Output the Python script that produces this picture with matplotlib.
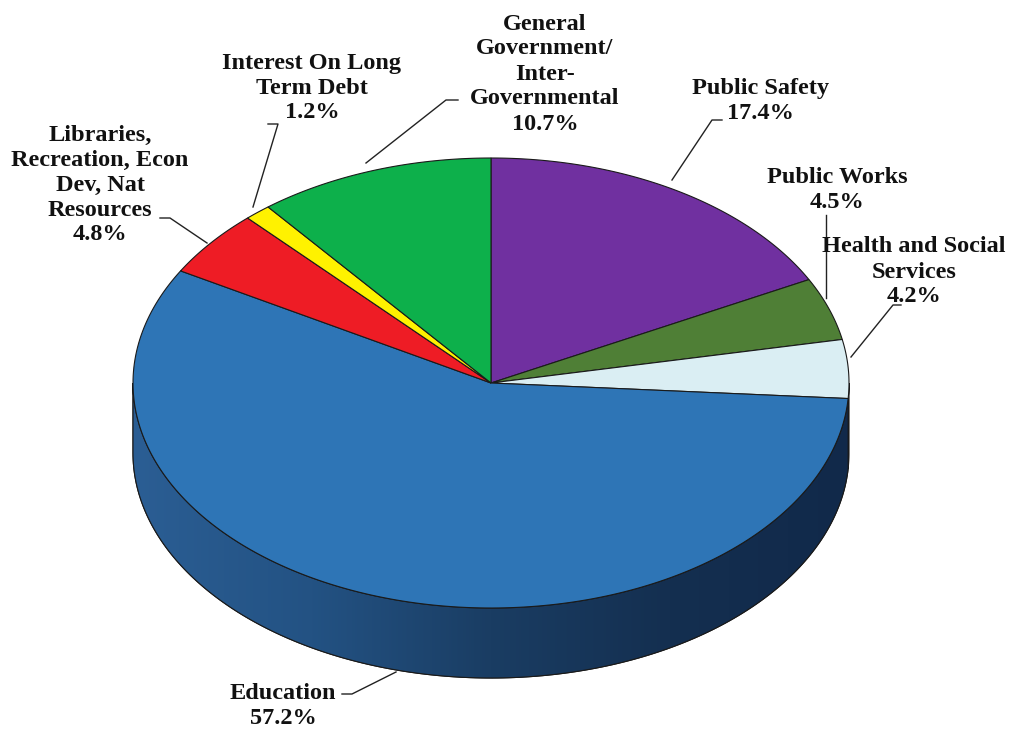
import numpy as np
import matplotlib.pyplot as plt
from matplotlib.patches import Polygon
from matplotlib.colors import LinearSegmentedColormap

# slice data, clockwise from 12 o'clock
labels = ["Public Safety", "Public Works", "Health and Social\nServices",
          "Education", "Libraries,\nRecreation, Econ\nDev, Nat\nResources",
          "Interest On Long\nTerm Debt", "General\nGovernment/\nInter-\nGovernmental"]
shares = [17.4, 4.5, 4.2, 57.2, 4.8, 1.2, 10.7]
colors = ["#7030A0", "#4F7F36", "#DAEEF3", "#2E75B6", "#EE1C25", "#FFF200", "#0DB04B"]
side_colors = ["#4A1E6B", "#34561F", "#9FC3CE", "#1B3F66", "#A01218", "#B0A800", "#08783A"]

# label anchor (text centre) and leader path in pixel coordinates
label_pos = [(760, 101), (837, 190), (914, 272), (283, 706), (100, 185), (312, 88), (545, 74)]
leaders = [
    [(722, 120), (712, 120), (672, 180)],
    [(826, 215), (826, 298)],
    [(901, 305), (893, 305), (851, 357)],
    [(342, 694), (352, 694), (396, 672)],
    [(160, 218), (170, 218), (207, 243)],
    [(268, 124), (278, 124), (253, 207)],
    [(458, 100), (446, 100), (366, 163)],
]

cx, cy = 491, 383
a, b = 358, 225
depth = 70


def arc(t1, t2, dy=0, n=200):
    t = np.radians(np.linspace(t1, t2, n))
    return np.column_stack([cx + a * np.cos(t), cy - b * np.sin(t) + dy])


fig = plt.figure(figsize=(10.34, 7.34), dpi=100)
ax = fig.add_axes([0, 0, 1, 1])
ax.set_xlim(0, 1034)
ax.set_ylim(734, 0)
ax.axis("off")

# angular extents (degrees, counterclockwise maths convention)
bounds = []
start = 90.0
for s in shares:
    end = start - s * 3.6
    bounds.append((end, start))
    start = end

# side walls: only the front half (180..360) is visible
side_cmap = LinearSegmentedColormap.from_list(
    "side", ["#2B5E94", "#235283", "#1A3D63", "#142F50", "#11294A"])
for (t1, t2), col, scol in zip(bounds, colors, side_colors):
    lo, hi = t1 % 360, t2 % 360
    if hi <= lo:
        hi += 360
    segs = []
    for k in (0, 360):
        s0, s1 = max(lo, 180 + k), min(hi, 360 + k)
        if s1 > s0:
            segs.append((s0, s1))
    for s0, s1 in segs:
        pts = np.vstack([arc(s0, s1), arc(s1, s0, depth)])
        poly = Polygon(pts, closed=True, facecolor=scol, edgecolor="#1a1a1a", lw=0.8, zorder=1)
        ax.add_patch(poly)
        if col == "#2E75B6":
            x0, x1 = pts[:, 0].min(), pts[:, 0].max()
            y0, y1 = pts[:, 1].min(), pts[:, 1].max()
            grad = np.linspace(0, 1, 256)[None, :]
            im = ax.imshow(grad, cmap=side_cmap, extent=(x0, x1, y1, y0),
                           aspect="auto", zorder=1.5, interpolation="bicubic")
            im.set_clip_path(poly)
            ax.add_patch(Polygon(pts, closed=True, fill=False, edgecolor="#1a1a1a", lw=0.8, zorder=1.6))

# top face
for (t1, t2), col in zip(bounds, colors):
    pts = np.vstack([[cx, cy], arc(t2, t1)])
    ax.add_patch(Polygon(pts, closed=True, facecolor=col, edgecolor="#1a1a1a", lw=0.8, zorder=2))

# labels and leader lines
for lab, s, (x, y), path in zip(labels, shares, label_pos, leaders):
    ax.text(x, y, f"{lab}\n{s:.1f}%", ha="center", va="center", fontsize=17.5,
            fontweight="bold", family="Liberation Serif", linespacing=1.25,
            color="#111111", zorder=5)
    xs, ys = zip(*path)
    ax.plot(xs, ys, color="#222222", lw=1.0, zorder=4)

fig.savefig("out.png", dpi=100, facecolor="white")
